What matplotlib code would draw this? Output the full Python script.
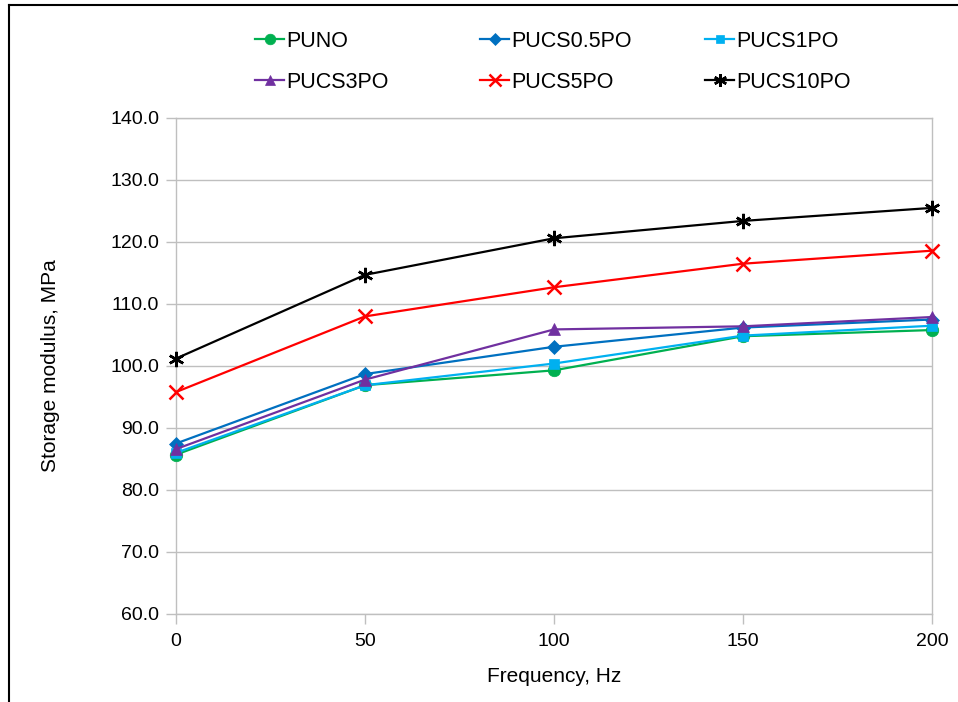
import matplotlib.pyplot as plt
from matplotlib.lines import Line2D

plt.rcParams['font.family'] = ['Liberation Sans', 'DejaVu Sans']

freq = [0, 50, 100, 150, 200]

puno = [85.7, 96.9, 99.3, 104.8, 105.8]
pucs05 = [87.5, 98.7, 103.1, 106.2, 107.5]
pucs1 = [86.0, 96.9, 100.4, 104.9, 106.5]
pucs3 = [86.6, 97.8, 105.9, 106.4, 107.9]
pucs5 = [95.8, 108.0, 112.7, 116.5, 118.6]
pucs10 = [101.2, 114.7, 120.6, 123.4, 125.5]

names = ['PUNO', 'PUCS0.5PO', 'PUCS1PO', 'PUCS3PO', 'PUCS5PO', 'PUCS10PO']
series = [puno, pucs05, pucs1, pucs3, pucs5, pucs10]
colors = ['#00b050', '#0070c0', '#00b0f0', '#7030a0', '#ff0000', '#000000']
markers = ['o', 'D', 's', '^', 'x', (6, 2, 0)]
msizes = [9, 7, 7.5, 9, 10, 11]

fig = plt.figure(figsize=(9.58, 7.02), dpi=100)
ax = fig.add_axes([176 / 958, 1 - 614 / 702, 756 / 958, 496 / 702])

lines = []
for name, vals, c, m, ms in zip(names, series, colors, markers, msizes):
    ln, = ax.plot(freq, vals, color=c, marker=m, markersize=ms, linewidth=1.6,
                  markeredgewidth=1.8 if m in ('x', (6, 2, 0)) else 0.5,
                  label=name, clip_on=False, zorder=3)
    lines.append(ln)

ax.set_xlim(0, 200)
ax.set_ylim(60, 140)
ax.set_xticks([0, 50, 100, 150, 200])
ax.set_yticks(range(60, 141, 10))
ax.set_yticklabels(['%.1f' % v for v in range(60, 141, 10)])
ax.grid(axis='y', color='#bfbfbf', linewidth=1)
ax.set_axisbelow(True)
for s in ax.spines.values():
    s.set_color('#bfbfbf')
    s.set_linewidth(1)
ax.tick_params(colors='#bfbfbf', labelcolor='black', labelsize=14, length=7, width=1)
ax.tick_params(axis='x', pad=7)
ax.tick_params(axis='y', pad=5)
ax.set_xlabel('Frequency, Hz', fontsize=15, labelpad=12)
ax.set_ylabel('Storage modulus, MPa', fontsize=15, labelpad=36)

# legend: three columns of two rows each
col_x = [255, 480, 705]
for i, x in enumerate(col_x):
    fig.legend(handles=[lines[i], lines[i + 3]], loc='upper left',
               bbox_to_anchor=(x / 958, 1 - 31 / 702), frameon=False,
               fontsize=15.5, handlelength=1.35, handletextpad=0.1,
               labelspacing=0.92, borderaxespad=0, borderpad=0,
               markerscale=0.85)

# outer frame (left and top edges)
fig.add_artist(Line2D([9 / 958, 9 / 958], [0, 1 - 5 / 702], color='black', linewidth=1.5))
fig.add_artist(Line2D([9 / 958, 1], [1 - 5 / 702, 1 - 5 / 702], color='black', linewidth=1.5))

fig.savefig('out.png', dpi=100)
